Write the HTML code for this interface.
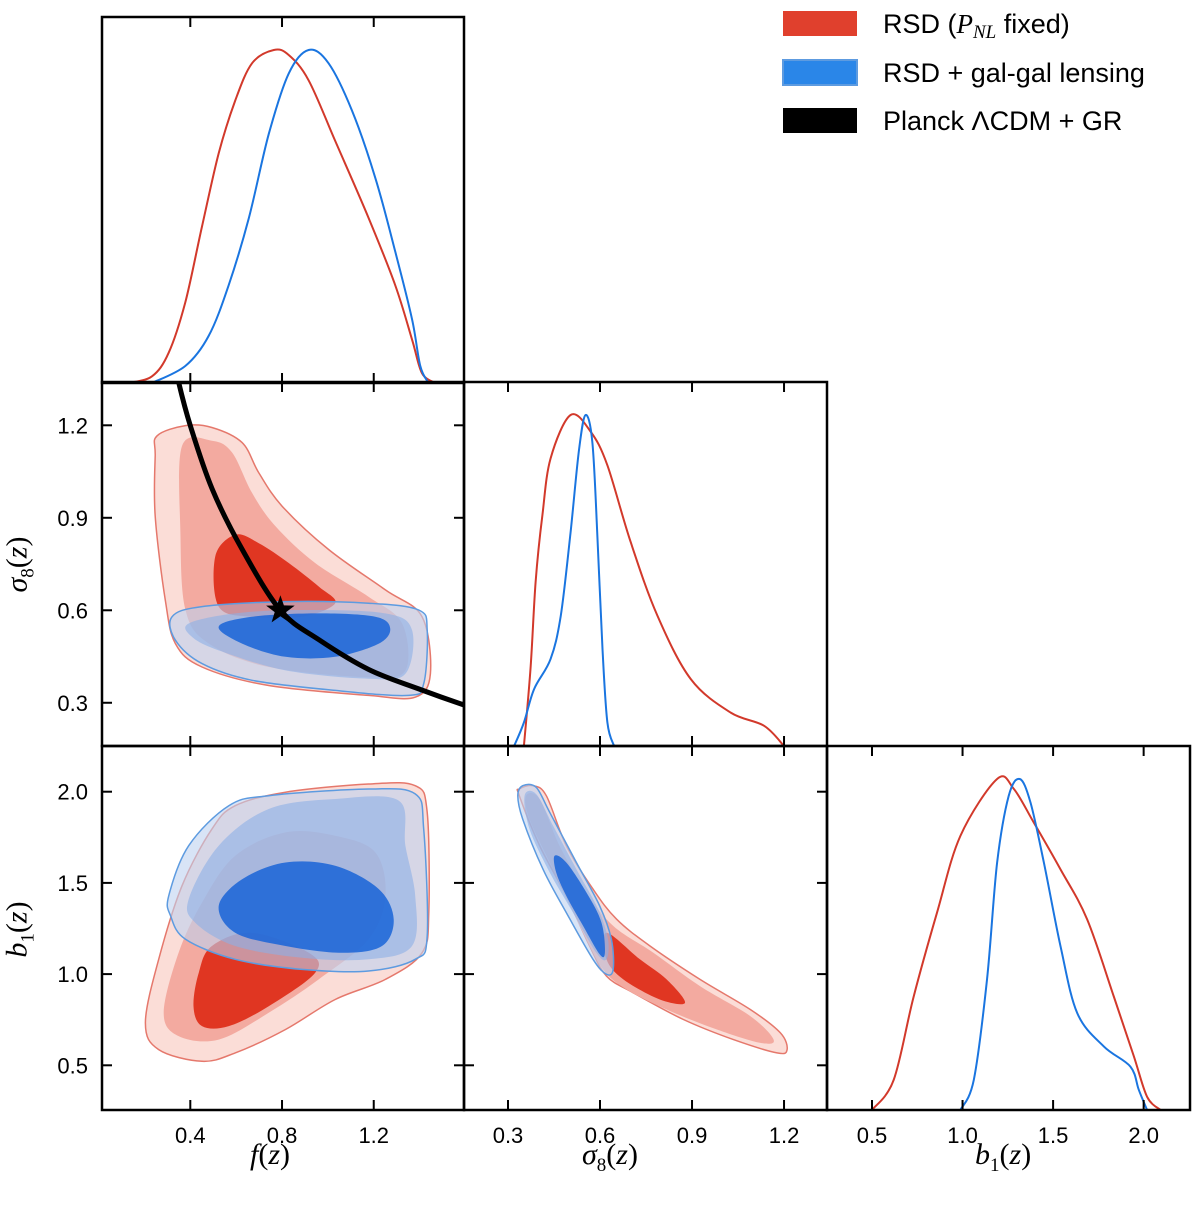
<!DOCTYPE html>
<html><head><meta charset="utf-8"><style>
html,body{margin:0;padding:0;background:#fff;}
svg{display:block;}
text{font-family:"Liberation Sans",sans-serif;}
</style></head><body>
<svg id="c" width="1200" height="1205" viewBox="0 0 1200 1205" xmlns="http://www.w3.org/2000/svg">
<defs>
<clipPath id="cTL"><rect x="102" y="17" width="362" height="366"/></clipPath>
<clipPath id="cML"><rect x="102" y="382" width="362" height="364"/></clipPath>
<clipPath id="cMM"><rect x="464" y="382" width="363" height="364"/></clipPath>
<clipPath id="cBL"><rect x="102" y="746" width="362" height="364"/></clipPath>
<clipPath id="cBM"><rect x="464" y="746" width="363" height="364"/></clipPath>
<clipPath id="cBR"><rect x="827" y="746" width="363" height="364"/></clipPath>
</defs>
<g>
<rect x="783" y="11" width="74" height="25" fill="#e0402d"/>
<text x="883" y="33" font-size="27">RSD (<tspan font-family="Liberation Serif" font-style="italic">P</tspan><tspan font-family="Liberation Serif" font-style="italic" font-size="19" dy="5">NL</tspan><tspan dy="-5"> fixed)</tspan></text>
<rect x="783" y="60" width="74" height="25" fill="#2a86e8" stroke="#5d9be0" stroke-width="2"/>
<text x="883" y="82" font-size="27">RSD + gal-gal lensing</text>
<rect x="783" y="108" width="74" height="25" fill="#000"/>
<text x="883" y="130" font-size="27">Planck ΛCDM + GR</text>
</g>
</svg>
<script>
// ---- data ----
const fTicks=[0.4,0.8,1.2];
const sTicks=[0.3,0.6,0.9,1.2];
const bTicks=[0.5,1.0,1.5,2.0];
const fTickLabels=["0.4","0.8","1.2"];
const sTickLabels=["0.3","0.6","0.9","1.2"];
const bTickLabels=["0.5","1.0","1.5","2.0"];

// 1D f
const fRedX=[0.131,0.233,0.306,0.378,0.451,0.524,0.596,0.669,0.764,0.829,0.916,1.032,1.178,1.294,1.367,1.410,1.468];
const fRedP=[0,0.020,0.091,0.242,0.470,0.690,0.848,0.960,1.0,0.985,0.909,0.727,0.495,0.293,0.131,0.030,0];
const fBlueX=[0.233,0.378,0.480,0.567,0.655,0.742,0.829,0.916,1.003,1.105,1.207,1.294,1.367,1.403,1.439];
const fBlueP=[0,0.051,0.141,0.293,0.495,0.747,0.929,1.0,0.960,0.818,0.616,0.394,0.192,0.051,0];
// 1D sigma8
const sRedX=[0.352,0.374,0.390,0.412,0.439,0.504,0.570,0.624,0.700,0.787,0.896,1.026,1.135,1.200];
const sRedP=[0,0.242,0.495,0.697,0.869,1.0,0.949,0.848,0.616,0.394,0.202,0.101,0.061,0];
const sBlueX=[0.320,0.352,0.385,0.439,0.472,0.504,0.532,0.553,0.575,0.591,0.608,0.624,0.646];
const sBlueP=[0,0.071,0.172,0.263,0.394,0.646,0.899,1.0,0.919,0.646,0.293,0.071,0];
// 1D b1
const bRedX=[0.500,0.620,0.730,0.859,0.988,1.191,1.283,1.393,1.541,1.688,1.835,1.946,2.019,2.093];
const bRedP=[0,0.091,0.343,0.596,0.828,1.0,0.970,0.869,0.727,0.576,0.343,0.162,0.040,0];
const bBlueX=[0.988,1.062,1.135,1.191,1.255,1.316,1.375,1.449,1.541,1.633,1.780,1.927,1.973,2.019];
const bBlueP=[0,0.091,0.394,0.747,0.949,1.0,0.929,0.747,0.495,0.293,0.192,0.131,0.061,0];

// f vs sigma8 contours
const fsRed95F=[0.255,0.379,0.494,0.626,0.698,0.800,1.003,1.251,1.411,1.447,1.381,1.177,0.742,0.451,0.335,0.291,0.247,0.247];
const fsRed95S=[1.166,1.199,1.193,1.144,1.047,0.938,0.797,0.666,0.579,0.394,0.318,0.324,0.356,0.416,0.492,0.633,0.905,1.101];
const fsRed68F=[0.364,0.494,0.582,0.669,0.771,0.945,1.177,1.324,1.338,1.177,0.742,0.481,0.379,0.357];
const fsRed68S=[1.133,1.150,1.112,0.981,0.873,0.753,0.644,0.557,0.405,0.383,0.416,0.492,0.601,0.851];
const fsRed1F=[0.509,0.596,0.698,0.830,0.960,1.032,0.887,0.669,0.524];
const fsRed1S=[0.775,0.845,0.818,0.753,0.677,0.623,0.579,0.579,0.612];
const fsBlue95F=[0.320,0.451,0.815,1.177,1.396,1.433,1.418,1.352,1.032,0.669,0.451,0.335];
const fsBlue95S=[0.579,0.612,0.628,0.623,0.601,0.536,0.362,0.324,0.340,0.373,0.427,0.503];
const fsBlue68F=[0.393,0.596,0.887,1.251,1.367,1.338,1.177,0.815,0.524,0.407];
const fsBlue68S=[0.557,0.590,0.601,0.590,0.536,0.394,0.378,0.405,0.470,0.514];
const fsBlue1F=[0.524,0.669,0.960,1.207,1.272,1.222,1.032,0.815,0.626];
const fsBlue1S=[0.547,0.579,0.590,0.579,0.541,0.492,0.449,0.449,0.492];
// Planck curve
const planckF=[0.33,0.349,0.400,0.495,0.625,0.793,0.960,1.178,1.396,1.592,1.65];
const planckS=[1.42,1.340,1.199,0.994,0.799,0.600,0.505,0.408,0.345,0.293,0.28];
const starF=0.793, starS=0.600;

// f vs b1 contours
const fbRed95F=[0.204,0.262,0.364,0.494,0.596,0.815,1.177,1.381,1.433,1.440,1.411,1.251,1.032,0.815,0.596,0.451,0.262];
const fbRed95B=[0.733,1.081,1.484,1.795,1.923,1.997,2.042,2.033,1.887,1.337,1.117,0.971,0.861,0.696,0.568,0.522,0.586];
const fbRed68F=[0.284,0.349,0.451,0.596,0.815,1.032,1.207,1.251,1.177,0.960,0.742,0.524,0.349];
const fbRed68B=[0.788,1.117,1.392,1.649,1.777,1.758,1.667,1.429,1.191,0.971,0.788,0.641,0.660];
const fbRed1F=[0.414,0.437,0.494,0.669,0.917,0.945,0.742,0.568,0.451];
const fbRed1B=[0.824,1.008,1.154,1.227,1.117,1.008,0.824,0.715,0.715];
const fbBlue95F=[0.306,0.393,0.568,0.742,1.177,1.381,1.418,1.433,1.381,1.177,0.887,0.596,0.379,0.314];
const fbBlue95B=[1.429,1.704,1.923,1.978,2.015,1.988,1.795,1.209,1.081,1.017,1.026,1.081,1.191,1.319];
const fbBlue68F=[0.393,0.524,0.742,1.032,1.309,1.338,1.381,1.367,1.177,0.887,0.596,0.422];
const fbBlue68B=[1.411,1.704,1.905,1.960,1.951,1.704,1.429,1.154,1.081,1.090,1.154,1.282];
const fbBlue1F=[0.524,0.626,0.815,1.032,1.222,1.287,1.236,1.062,0.815,0.596];
const fbBlue1B=[1.374,1.520,1.612,1.594,1.466,1.301,1.154,1.117,1.154,1.227];

// sigma8 vs b1 contours
const sbRed95S=[0.337,0.381,0.425,0.490,0.577,0.654,0.763,0.926,1.090,1.188,1.210,1.177,1.035,0.872,0.708,0.621,0.566,0.490,0.403,0.337];
const sbRed95B=[2.015,2.033,1.978,1.704,1.466,1.301,1.154,0.971,0.806,0.678,0.586,0.568,0.641,0.751,0.898,0.989,1.154,1.429,1.704,1.978];
const sbRed68S=[0.359,0.403,0.468,0.556,0.643,0.774,0.926,1.090,1.166,1.123,0.981,0.817,0.686,0.610,0.545,0.447,0.370];
const sbRed68B=[1.978,1.960,1.704,1.447,1.264,1.117,0.934,0.770,0.641,0.623,0.696,0.806,0.916,1.026,1.227,1.575,1.850];
const sbRed1S=[0.621,0.730,0.817,0.877,0.795,0.676,0.621];
const sbRed1B=[1.227,1.081,0.971,0.843,0.861,0.971,1.081];
const sbBlue95S=[0.332,0.348,0.392,0.436,0.523,0.599,0.637,0.643,0.621,0.577,0.490,0.414,0.348];
const sbBlue95B=[1.978,2.033,2.024,1.887,1.612,1.374,1.191,1.026,0.999,1.081,1.337,1.575,1.850];
const sbBlue68S=[0.354,0.392,0.447,0.523,0.594,0.626,0.621,0.588,0.512,0.436,0.370];
const sbBlue68B=[1.978,1.987,1.813,1.575,1.356,1.191,1.081,1.117,1.337,1.557,1.795];
const sbBlue1S=[0.452,0.490,0.556,0.605,0.616,0.599,0.545,0.490,0.457];
const sbBlue1B=[1.649,1.612,1.447,1.282,1.117,1.108,1.264,1.429,1.557];

// ---- axes ----
const fx=f=>190.3+(f-0.4)*229.3;
const sy=s=>425.3+(1.2-s)*308.3;
const sx=s=>508+(s-0.3)*306.7;
const by=b=>791.7+(2.0-b)*182.4;
const bx=b=>872+(b-0.5)*181.1;
const pTL=p=>383-p*333;
const pMM=p=>746-p*331;
const pBR=p=>1110-p*331;

const svg=document.getElementById('c');
const NS='http://www.w3.org/2000/svg';
function mk(tag,attrs,parent){const e=document.createElementNS(NS,tag);for(const k in attrs)e.setAttribute(k,attrs[k]);(parent||svg).appendChild(e);return e;}
function spline(pts,closed){
  const n=pts.length;let d='M'+pts[0][0].toFixed(1)+','+pts[0][1].toFixed(1);
  const get=i=>closed?pts[(i+n)%n]:pts[Math.max(0,Math.min(n-1,i))];
  const last=closed?n:n-1;
  for(let i=0;i<last;i++){
    const p0=get(i-1),p1=get(i),p2=get(i+1),p3=get(i+2);
    const c1=[p1[0]+(p2[0]-p0[0])/6,p1[1]+(p2[1]-p0[1])/6];
    const c2=[p2[0]-(p3[0]-p1[0])/6,p2[1]-(p3[1]-p1[1])/6];
    d+='C'+c1[0].toFixed(1)+','+c1[1].toFixed(1)+' '+c2[0].toFixed(1)+','+c2[1].toFixed(1)+' '+p2[0].toFixed(1)+','+p2[1].toFixed(1);
  }
  return d+(closed?'Z':'');
}
function pts(xs,ys,X,Y){return xs.map((v,i)=>[X(v),Y(ys[i])]);}

const styles={
 red95:{fill:'#fbddd7',stroke:'#e5786c','stroke-width':1.5},
 red68:{fill:'#f3aaa0',stroke:'none'},
 red1:{fill:'#e03622',stroke:'none'},
 blue95:{fill:'rgba(190,210,240,0.6)',stroke:'#5d9be0','stroke-width':1.5},
 blue68:{fill:'rgba(140,175,230,0.6)',stroke:'none'},
 blue1:{fill:'rgba(25,100,215,0.85)',stroke:'none'}
};
function contour(g,xs,ys,X,Y,st,name){
  const a=Object.assign({d:spline(pts(xs,ys,X,Y),true)},styles[st]);
  const p=mk('path',a,g);
  
  
}
function curve(g,xs,ps,X,Y,color,name){
  const p=mk('path',{d:spline(pts(xs,ps,X,Y),false),fill:'none',stroke:color,'stroke-width':2},g);
  
  
}
function panel(clip,name){const g=mk('g',{'clip-path':'url(#'+clip+')'});return g;}

const RED='#d2392b', BLUE='#1a75e0';
let g=panel('cTL','f-marginal-panel');
curve(g,fRedX,fRedP,fx,pTL,RED,'f-curve-rsd');
curve(g,fBlueX,fBlueP,fx,pTL,BLUE,'f-curve-lensing');
g=panel('cML','f-sigma8-panel');
contour(g,fsRed95F,fsRed95S,fx,sy,'red95','f-sigma8-rsd-95');
contour(g,fsRed68F,fsRed68S,fx,sy,'red68','f-sigma8-rsd-68');
contour(g,fsRed1F,fsRed1S,fx,sy,'red1','f-sigma8-rsd-core');
contour(g,fsBlue95F,fsBlue95S,fx,sy,'blue95','f-sigma8-lensing-95');
contour(g,fsBlue68F,fsBlue68S,fx,sy,'blue68','f-sigma8-lensing-68');
contour(g,fsBlue1F,fsBlue1S,fx,sy,'blue1','f-sigma8-lensing-core');
let pl=mk('path',{d:spline(pts(planckF,planckS,fx,sy),false),fill:'none',stroke:'#000','stroke-width':5},g);


(function(){const cx=fx(starF),cy=sy(starS);let d='';for(let i=0;i<10;i++){const r=i%2?6:15;const a=-Math.PI/2+i*Math.PI/5;d+=(i?'L':'M')+(cx+r*Math.cos(a)).toFixed(1)+','+(cy+r*Math.sin(a)).toFixed(1);}
const s=mk('path',{d:d+'Z',fill:'#000'},g);

})();
g=panel('cMM','sigma8-marginal-panel');
curve(g,sRedX,sRedP,sx,pMM,RED,'sigma8-curve-rsd');
curve(g,sBlueX,sBlueP,sx,pMM,BLUE,'sigma8-curve-lensing');
g=panel('cBL','f-b1-panel');
contour(g,fbRed95F,fbRed95B,fx,by,'red95','f-b1-rsd-95');
contour(g,fbRed68F,fbRed68B,fx,by,'red68','f-b1-rsd-68');
contour(g,fbRed1F,fbRed1B,fx,by,'red1','f-b1-rsd-core');
contour(g,fbBlue95F,fbBlue95B,fx,by,'blue95','f-b1-lensing-95');
contour(g,fbBlue68F,fbBlue68B,fx,by,'blue68','f-b1-lensing-68');
contour(g,fbBlue1F,fbBlue1B,fx,by,'blue1','f-b1-lensing-core');
g=panel('cBM','sigma8-b1-panel');
contour(g,sbRed95S,sbRed95B,sx,by,'red95','sigma8-b1-rsd-95');
contour(g,sbRed68S,sbRed68B,sx,by,'red68','sigma8-b1-rsd-68');
contour(g,sbRed1S,sbRed1B,sx,by,'red1','sigma8-b1-rsd-core');
contour(g,sbBlue95S,sbBlue95B,sx,by,'blue95','sigma8-b1-lensing-95');
contour(g,sbBlue68S,sbBlue68B,sx,by,'blue68','sigma8-b1-lensing-68');
contour(g,sbBlue1S,sbBlue1B,sx,by,'blue1','sigma8-b1-lensing-core');
g=panel('cBR','b1-marginal-panel');
curve(g,bRedX,bRedP,bx,pBR,RED,'b1-curve-rsd');
curve(g,bBlueX,bBlueP,bx,pBR,BLUE,'b1-curve-lensing');

function frame(x0,y0,x1,y1,xt,X,yt,Y,name){
  const r=mk('rect',{x:x0,y:y0,width:x1-x0,height:y1-y0,fill:'none',stroke:'#000','stroke-width':2.5});
  
  
  if(xt)xt.forEach(v=>{const x=X(v);
    mk('line',{x1:x,x2:x,y1:y0,y2:y0+10,stroke:'#000','stroke-width':2});
    mk('line',{x1:x,x2:x,y1:y1,y2:y1-10,stroke:'#000','stroke-width':2});});
  if(yt)yt.forEach(v=>{const y=Y(v);
    mk('line',{x1:x0,x2:x0+10,y1:y,y2:y,stroke:'#000','stroke-width':2});
    mk('line',{x1:x1,x2:x1-10,y1:y,y2:y,stroke:'#000','stroke-width':2});});
}
frame(102,17,464,383,fTicks,fx,null,null,'f-marginal-frame');
frame(102,382,464,746,fTicks,fx,sTicks,sy,'f-sigma8-frame');
frame(464,382,827,746,sTicks,sx,null,null,'sigma8-marginal-frame');
frame(102,746,464,1110,fTicks,fx,bTicks,by,'f-b1-frame');
frame(464,746,827,1110,sTicks,sx,bTicks,by,'sigma8-b1-frame');
frame(827,746,1190,1110,bTicks,bx,null,null,'b1-marginal-frame');

function lbl(x,y,t,anchor,name){const e=mk('text',{x:x,y:y,'font-size':22,'text-anchor':anchor});e.textContent=t;
  
  }
fTicks.forEach((v,i)=>lbl(fx(v),1143,fTickLabels[i],'middle','f-tick-label'));
sTicks.forEach((v,i)=>lbl(sx(v),1143,sTickLabels[i],'middle','sigma8-tick-label'));
bTicks.forEach((v,i)=>lbl(bx(v),1143,bTickLabels[i],'middle','b1-tick-label'));
sTicks.forEach((v,i)=>lbl(88,sy(v)+8,sTickLabels[i],'end','sigma8-y-tick-label'));
bTicks.forEach((v,i)=>lbl(88,by(v)+8,bTickLabels[i],'end','b1-y-tick-label'));
</script>
<div style="position:absolute;left:0;top:0;width:1200px;height:1205px;pointer-events:none;font-family:'Liberation Serif',serif;font-size:30px;">
<div style="position:absolute;left:250px;top:1138px;"><i>f</i>(<i>z</i>)</div>
<div style="position:absolute;left:582px;top:1138px;"><i>σ</i><sub style="font-size:19px">8</sub>(<i>z</i>)</div>
<div style="position:absolute;left:975px;top:1138px;"><i>b</i><sub style="font-size:19px">1</sub>(<i>z</i>)</div>
<div style="position:absolute;left:-20px;top:545px;transform:rotate(-90deg);width:80px;text-align:center;"><i>σ</i><sub style="font-size:19px">8</sub>(<i>z</i>)</div>
<div style="position:absolute;left:-20px;top:910px;transform:rotate(-90deg);width:80px;text-align:center;"><i>b</i><sub style="font-size:19px">1</sub>(<i>z</i>)</div>
</div>
</body></html>
